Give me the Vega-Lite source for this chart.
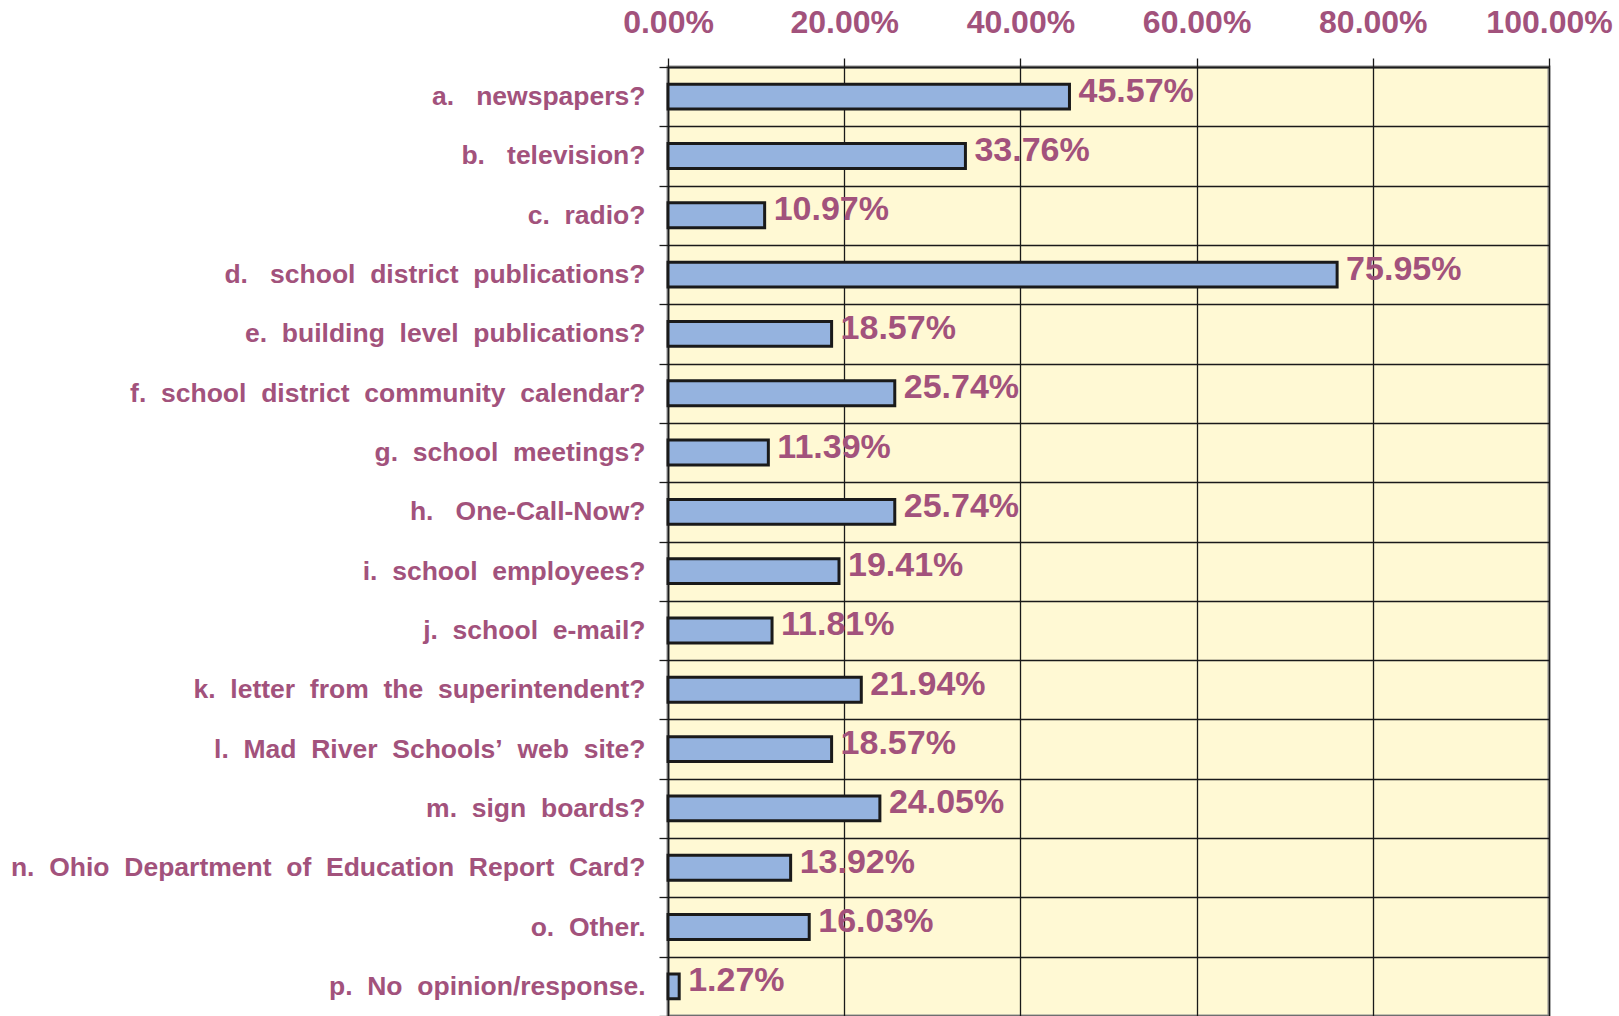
{
  "$schema": "https://vega.github.io/schema/vega-lite/v6.json",
  "autosize": {"type": "none"},
  "padding": {"left": 668, "top": 67, "right": 70, "bottom": 0},
  "width": 881,
  "height": 949,
  "background": "white",
  "data": {
    "values": [
      {"label": "a.\u00a0 \u00a0newspapers?", "value": 0.4557},
      {"label": "b.\u00a0 \u00a0television?", "value": 0.3376},
      {"label": "c.\u00a0 radio?", "value": 0.1097},
      {"label": "d.\u00a0 \u00a0school\u00a0 district\u00a0 publications?", "value": 0.7595},
      {"label": "e.\u00a0 building\u00a0 level\u00a0 publications?", "value": 0.1857},
      {"label": "f.\u00a0 school\u00a0 district\u00a0 community\u00a0 calendar?\u00a0\u00a0", "value": 0.2574},
      {"label": "g.\u00a0 school\u00a0 meetings?", "value": 0.1139},
      {"label": "h.\u00a0 \u00a0One-Call-Now?", "value": 0.2574},
      {"label": "i.\u00a0 school\u00a0 employees?", "value": 0.1941},
      {"label": "j.\u00a0 school\u00a0 e-mail?", "value": 0.1181},
      {"label": "k.\u00a0 letter\u00a0 from\u00a0 the\u00a0 superintendent?", "value": 0.2194},
      {"label": "l.\u00a0 Mad\u00a0 River\u00a0 Schools’\u00a0 web\u00a0 site?", "value": 0.1857},
      {"label": "m.\u00a0 sign\u00a0 boards?\u00a0\u00a0", "value": 0.2405},
      {"label": "n.\u00a0 Ohio\u00a0 Department\u00a0 of\u00a0 Education\u00a0 Report\u00a0 Card?\u00a0\u00a0", "value": 0.1392},
      {"label": "o.\u00a0 Other.", "value": 0.1603},
      {"label": "p.\u00a0 No\u00a0 opinion/response.", "value": 0.0127}
    ]
  },
  "config": {
    "view": {"fill": "#FFF9D4", "stroke": "#8C8C8C", "strokeWidth": 3},
    "font": "Liberation Sans"
  },
  "encoding": {
    "y": {
      "field": "label",
      "type": "nominal",
      "sort": null,
      "scale": {"paddingInner": 0, "paddingOuter": 0},
      "axis": {
        "title": null,
        "tickBand": "extent",
        "grid": true,
        "gridColor": "#1a1a1a",
        "gridWidth": 1.3,
        "gridOpacity": 1,
        "ticks": true,
        "tickSize": 9,
        "tickColor": "#1a1a1a",
        "tickWidth": 1.3,
        "domain": true,
        "domainColor": "#1a1a1a",
        "domainWidth": 1.3,
        "labelFont": "Liberation Sans",
        "labelFontSize": 26.5,
        "labelFontWeight": "bold",
        "labelColor": "#A2527C",
        "labelPadding": 14,
        "labelLimit": 0
      }
    },
    "x": {
      "field": "value",
      "type": "quantitative",
      "scale": {"domain": [0, 1], "nice": false},
      "axis": {
        "orient": "top",
        "title": null,
        "values": [0, 0.2, 0.4, 0.6, 0.8, 1],
        "format": ".2%",
        "grid": true,
        "gridColor": "#1a1a1a",
        "gridWidth": 1.3,
        "gridOpacity": 1,
        "ticks": true,
        "tickSize": 9,
        "tickColor": "#1a1a1a",
        "tickWidth": 1.3,
        "domain": true,
        "domainColor": "#1a1a1a",
        "domainWidth": 1.3,
        "labelFont": "Liberation Sans",
        "labelFontSize": 32,
        "labelFontWeight": "bold",
        "labelColor": "#A2527C",
        "labelPadding": 19,
        "labelFlush": false
      }
    }
  },
  "layer": [
    {
      "mark": {"type": "bar", "height": {"band": 0.42}, "fill": "#95B3DF", "stroke": "#1a1a1a", "strokeWidth": 3}
    },
    {
      "mark": {
        "type": "text",
        "align": "left",
        "baseline": "middle",
        "dx": 9,
        "dy": -5,
        "fontSize": 34,
        "fontWeight": "bold",
        "font": "Liberation Sans",
        "color": "#A2527C"
      },
      "encoding": {
        "text": {"field": "value", "type": "quantitative", "format": ".2%"}
      }
    }
  ]
}
